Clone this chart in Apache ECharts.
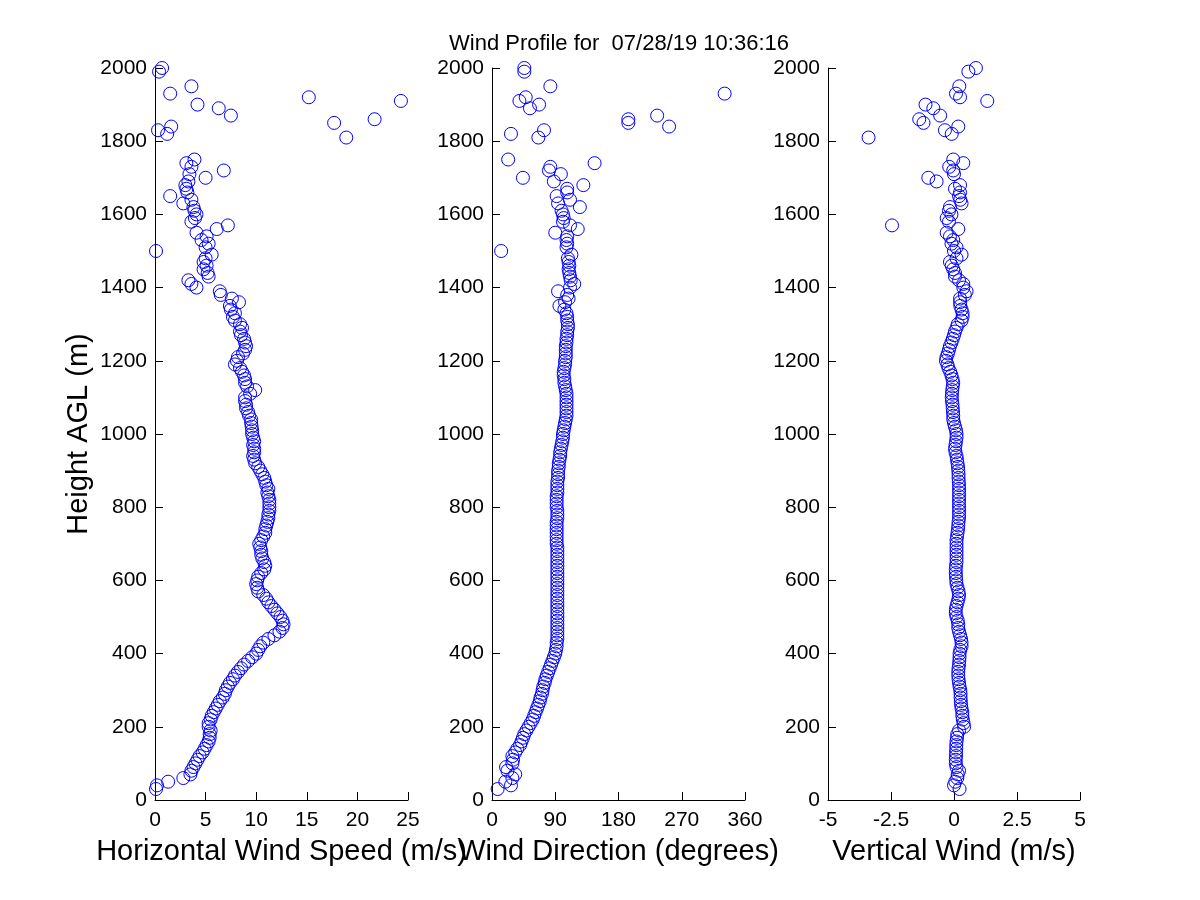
<!DOCTYPE html>
<html>
<head>
<meta charset="utf-8">
<script src="https://cdn.jsdelivr.net/npm/echarts@6/dist/echarts.min.js"></script>
<style>
html,body{margin:0;padding:0;background:#fff;}
#c{width:1200px;height:900px;}
</style>
</head>
<body>
<div id="c"></div>
<script>
// Heights AGL (m) of each measurement gate (gates with no data are left out)
var heights = [
  30,40,50,60,70,80,90,
  100,110,120,130,140,150,160,170,180,190,
  200,210,220,230,240,250,260,270,280,290,
  300,310,320,330,340,350,360,370,380,390,
  400,410,420,430,440,450,460,470,480,490,
  500,510,520,530,540,550,560,570,580,590,
  600,610,620,630,640,650,660,670,680,690,
  700,710,720,730,740,750,760,770,780,790,
  800,810,820,830,840,850,860,870,880,890,
  900,910,920,930,940,950,960,970,980,990,
  1000,1010,1020,1030,1040,1050,1060,1070,1080,1090,
  1100,1110,1120,1130,1140,1150,1160,1170,1180,1190,
  1200,1210,1220,1230,1240,1250,1260,1270,1280,1290,
  1300,1310,1320,1330,1340,1350,1360,1370,1380,1390,
  1400,1410,1420,1430,1440,1450,1460,1470,1480,1490,
  1500,1510,1520,1530,1540,1550,1560,1570,1580,1590,
  1600,1610,1620,1630,1640,1650,1660,1670,1680,1690,
  1700,1710,1720,1730,1740,1750,
  1810,1820,1830,1840,1850,1860,1870,1890,1900,1910,1920,1930,1950,1990,2000
];
// Horizontal wind speed (m/s)
var speed = [
  0.1,0.2,1.3,2.8,3.5,3.6,3.8,
  4.0,4.2,4.4,4.7,4.9,5.1,5.3,5.4,5.4,5.5,
  5.3,5.3,5.5,5.6,5.8,6.0,6.2,6.4,6.7,6.9,
  7.0,7.2,7.4,7.7,7.9,8.2,8.5,8.8,9.2,9.6,
  10.0,10.2,10.4,10.7,11.2,11.8,12.3,12.6,12.7,12.6,
  12.4,12.1,11.8,11.5,11.2,11.0,10.7,10.2,10.1,10.0,
  10.1,10.2,10.5,10.8,10.9,10.8,10.6,10.5,10.5,10.4,
  10.3,10.5,10.7,10.9,10.9,11.0,11.1,11.2,11.2,11.3,
  11.3,11.3,11.3,11.2,11.1,11.2,11.0,10.9,10.8,10.6,
  10.4,10.2,9.9,9.8,9.7,9.8,9.8,9.7,9.8,9.7,
  9.6,9.6,9.55,9.5,9.5,9.3,9.2,9.0,9.0,8.9,
  8.9,9.4,9.9,9.1,8.9,8.9,8.8,8.6,8.4,7.9,
  8.1,8.2,8.7,8.9,9.0,8.9,8.8,8.5,8.4,8.6,
  8.4,7.9,7.7,7.9,7.5,7.4,8.3,7.6,6.5,6.4,
  4.1,3.6,3.3,5.3,5.2,4.8,5.1,4.8,5.0,5.6,
  0.1,5.0,5.3,4.6,5.1,4.1,6.1,7.2,3.6,3.95,
  4.1,3.9,3.8,2.8,3.6,1.5,3.2,3.1,3.0,3.3,
  5.0,3.4,6.8,3.6,3.1,3.9,
  18.9,1.2,0.3,1.6,17.7,21.7,7.5,6.3,4.2,24.3,15.2,1.5,3.6,0.4,0.7
];
// Wind direction (degrees)
var direction = [
  8,27,19,29,33,22,20,
  29,30,29,33,36,40,42,44,46,49,
  52,55,58,60,62,64,66,68,69,71,
  72,73,75,76,78,80,82,84,86,88,
  90,91,92,92,93,93,93,93,93,93,
  93,93,93,93,93,93,93,93,93,93,
  93,93,93,93,93,93,93,93,93,93,
  92,92,92,92,92,92,92,93,93,93,
  92,92,92,92,93,93,93,93,94,94,
  94,95,95,96,97,97,98,99,100,101,
  101,102,103,104,105,106,106,106,106,106,
  106,106,105,104,103,103,102,102,103,104,
  104,105,105,105,105,106,106,107,107,108,
  108,107,107,106,103,96,104,109,107,94,
  111,117,112,111,110,109,110,109,108,113,
  13,106,107,106,107,90,122,111,101,102,
  101,99,125,94,111,92,107,107,130,88,
  44,98,81,83,146,23,
  66,27,74,252,194,194,235,54,67,39,48,331,83,46,46
];
// Vertical wind (m/s)
var vertical = [
  0.22,0.0,0.05,0.13,0.15,0.2,0.1,
  0.07,0.07,0.08,0.08,0.09,0.09,0.1,0.12,0.13,0.2,
  0.4,0.38,0.35,0.33,0.33,0.3,0.28,0.27,0.26,0.26,
  0.25,0.22,0.2,0.18,0.17,0.17,0.18,0.2,0.21,0.22,
  0.22,0.25,0.3,0.3,0.28,0.24,0.2,0.17,0.17,0.15,
  0.1,0.07,0.07,0.1,0.14,0.18,0.2,0.18,0.14,0.1,
  0.09,0.08,0.07,0.07,0.08,0.1,0.1,0.1,0.1,0.1,
  0.1,0.1,0.12,0.14,0.16,0.17,0.18,0.2,0.2,0.2,
  0.2,0.2,0.2,0.2,0.2,0.2,0.2,0.19,0.18,0.18,
  0.17,0.16,0.14,0.12,0.1,0.06,0.04,0.06,0.08,0.1,
  0.1,0.08,0.04,0.0,-0.03,-0.03,-0.04,-0.05,-0.06,-0.08,
  -0.09,-0.08,-0.07,-0.05,-0.03,-0.06,-0.1,-0.15,-0.22,-0.26,
  -0.32,-0.3,-0.24,-0.2,-0.16,-0.1,-0.05,0.0,0.04,0.1,
  0.15,0.3,0.34,0.34,0.3,0.25,0.24,0.24,0.43,0.5,
  0.37,0.37,0.2,0.04,0.04,-0.03,-0.09,-0.16,0.1,0.3,
  0.0,0.1,-0.1,-0.03,-0.16,-0.29,0.17,-2.46,-0.2,-0.29,
  -0.1,-0.2,-0.16,0.3,0.25,0.2,0.24,0.04,0.24,-0.69,
  -1.02,0.0,-0.03,-0.19,0.37,-0.03,
  -3.39,-0.09,-0.36,0.17,-1.21,-1.38,-0.55,-0.82,-1.13,1.32,0.24,0.08,0.21,0.57,0.87
];
var titleText = 'Wind Profile for  07/28/19 10:36:16';
var xNames = ['Horizontal Wind Speed (m/s)', 'Wind Direction (degrees)', 'Vertical Wind (m/s)'];
var yName = 'Height AGL (m)';
var xRanges = [[0, 25, 5], [0, 360, 90], [-5, 5, 2.5]];
var yRange = [0, 2000, 200];

function pairs(vals) {
  return vals.map(function (v, i) { return [v, heights[i]]; });
}
var seriesVals = [speed, direction, vertical];

var FONT = "'Liberation Sans', Arial, Helvetica, sans-serif";
var grids = [
  {left: 155, top: 68, width: 253, height: 732},
  {left: 492, top: 68, width: 253, height: 732},
  {left: 828, top: 68, width: 252, height: 732}
];
var axisLineStyle = {color: '#000', width: 1};
function plain(v) { return String(v); }
var xAxes = [], yAxes = [], series = [];
for (var k = 0; k < 3; k++) {
  xAxes.push({
    type: 'value', gridIndex: k,
    min: xRanges[k][0], max: xRanges[k][1], interval: xRanges[k][2],
    name: xNames[k], nameLocation: 'middle', nameGap: 37,
    nameTextStyle: {fontFamily: FONT, fontSize: 29, color: '#000'},
    axisLine: {show: true, onZero: false, lineStyle: axisLineStyle},
    axisTick: {show: true, inside: true, length: 8, lineStyle: axisLineStyle},
    axisLabel: {fontFamily: FONT, fontSize: 21, color: '#000', margin: 10, formatter: plain, showMinLabel: true, showMaxLabel: true},
    splitLine: {show: false}
  });
  yAxes.push({
    type: 'value', gridIndex: k,
    min: yRange[0], max: yRange[1], interval: yRange[2],
    name: k === 0 ? yName : '', nameLocation: 'middle', nameGap: 62, nameRotate: 90,
    nameTextStyle: {fontFamily: FONT, fontSize: 29, color: '#000'},
    axisLine: {show: true, onZero: false, lineStyle: axisLineStyle},
    axisTick: {show: true, inside: true, length: 8, lineStyle: axisLineStyle},
    axisLabel: {fontFamily: FONT, fontSize: 21, color: '#000', margin: 8, formatter: plain, showMinLabel: true, showMaxLabel: true},
    splitLine: {show: false}
  });
  series.push({
    type: 'scatter', xAxisIndex: k, yAxisIndex: k,
    symbol: 'circle', symbolSize: 13,
    itemStyle: {color: 'rgba(0,0,0,0)', borderColor: '#0000ff', borderWidth: 1, opacity: 1},
    emphasis: {disabled: true},
    animation: false,
    data: pairs(seriesVals[k])
  });
}

var chart = echarts.init(document.getElementById('c'), null, {renderer: 'canvas'});
chart.setOption({
  backgroundColor: '#fff',
  animation: false,
  title: {
    text: titleText, left: 444, top: 28,
    textStyle: {fontFamily: FONT, fontSize: 22, fontWeight: 'normal', color: '#000'}
  },
  grid: grids,
  xAxis: xAxes,
  yAxis: yAxes,
  series: series
});
</script>
</body>
</html>
